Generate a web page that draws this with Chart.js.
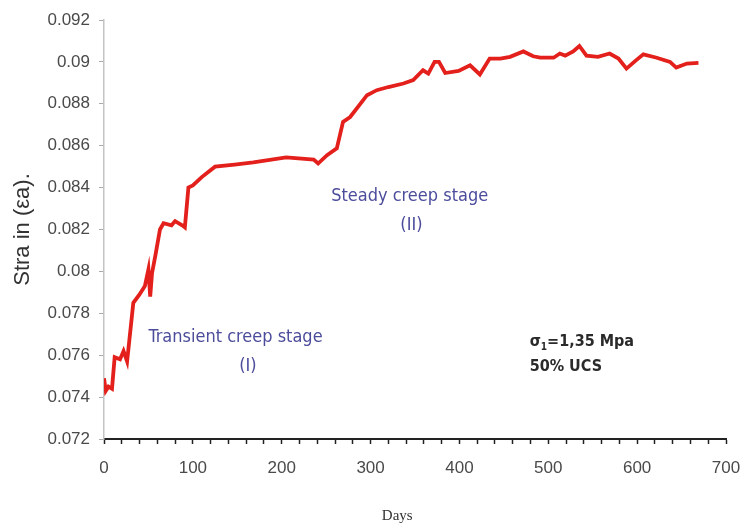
<!DOCTYPE html>
<html>
<head>
<meta charset="utf-8">
<script src="https://cdn.jsdelivr.net/npm/chart.js@4.4.1/dist/chart.umd.min.js"></script>
<style>
  html, body { margin: 0; padding: 0; background: #fff; }
  #wrap { width: 745px; height: 529px; }
</style>
</head>
<body>
<div id="wrap"><canvas id="chartCreep" width="745" height="529"></canvas></div>
<script>
// Data
const days = [0, 2, 5, 9, 12, 18, 22, 26, 33, 40, 46, 50, 52, 54, 58, 63, 67, 76, 80, 88,
    91, 95, 100, 110, 125, 147, 168, 205, 236, 241, 251, 262, 269, 277, 296, 307, 320, 337,
    348, 359, 365, 372, 377, 384, 399, 412, 423, 434, 446, 457, 472, 483, 491, 506, 513, 519,
    528, 535, 543, 556, 569, 579, 588, 598, 607, 622, 637, 644, 656, 669];
const strain = [0.0749, 0.0743, 0.0745, 0.0744, 0.0759, 0.0758, 0.0762, 0.0757, 0.0785, 0.0789,
    0.0793, 0.0801, 0.0788, 0.0799, 0.0808, 0.0820, 0.0823, 0.0822, 0.0824, 0.0822,
    0.0821, 0.0840, 0.0841, 0.0845, 0.0850, 0.0851, 0.0852, 0.08544, 0.08534, 0.08515,
    0.08555, 0.08587, 0.08714, 0.08737, 0.08841, 0.08865, 0.0888, 0.08897, 0.08913, 0.0896,
    0.08944, 0.0900, 0.0900, 0.08947, 0.08957, 0.08984, 0.0894, 0.09016, 0.09016, 0.09024,
    0.0905, 0.09027, 0.0902, 0.0902, 0.0904, 0.0903, 0.0905, 0.09076, 0.0903, 0.09024,
    0.0904, 0.09016, 0.08968, 0.09005, 0.09036, 0.0902, 0.0900, 0.08973, 0.08992, 0.08995];

const xTicks = [0, 100, 200, 300, 400, 500, 600, 700];
const yTicks = [0.072, 0.074, 0.076, 0.078, 0.08, 0.082, 0.084, 0.086, 0.088, 0.09, 0.092];

// annotation texts: [text, day, strain]
const stageLabels = [
    ['Transient creep stage', 148, 0.07687],
    ['(I)', 162, 0.07548],
    ['Steady creep stage', 344, 0.08359],
    ['(II)', 346, 0.08221]
];
const loadLabels = [
    ['1,35 Mpa', 479, 0.07663],
    ['50% UCS', 479, 0.07544]
];

const points = days.map((d, i) => ({ x: d, y: strain[i] }));

const narrow = '"Liberation Sans Narrow", "DejaVu Sans Condensed", sans-serif';

const textPlugin = {
    id: 'creepText',
    afterDraw(chart) {
        const ctx = chart.ctx;
        const xs = chart.scales.x, ys = chart.scales.y;
        ctx.save();
        ctx.textBaseline = 'middle';

        ctx.fillStyle = '#4c4c9c';
        ctx.textAlign = 'center';
        ctx.font = '18px ' + narrow;
        stageLabels.forEach(([t, d, s]) => {
            ctx.fillText(t, xs.getPixelForValue(d), ys.getPixelForValue(s));
        });

        ctx.fillStyle = '#2a2a2a';
        ctx.textAlign = 'left';
        ctx.font = 'bold 16px ' + narrow;
        // sigma with subscript 1
        const [t0, d0, s0] = loadLabels[0];
        let x = xs.getPixelForValue(d0);
        const y = ys.getPixelForValue(s0);
        ctx.fillText('σ', x, y);
        x += ctx.measureText('σ').width;
        ctx.font = 'bold 10px ' + narrow;
        ctx.fillText('1', x, y + 5);
        x += ctx.measureText('1').width;
        ctx.font = 'bold 16px ' + narrow;
        ctx.fillText('=' + t0, x, y);
        const [t1, d1, s1] = loadLabels[1];
        ctx.fillText(t1, xs.getPixelForValue(d1), ys.getPixelForValue(s1));

        // x axis title
        ctx.fillStyle = '#333';
        ctx.textAlign = 'center';
        ctx.font = '15px "Liberation Serif", serif';
        ctx.fillText('Days', xs.getPixelForValue(330), 516);
        ctx.restore();
    }
};

new Chart(document.getElementById('chartCreep'), {
    type: 'line',
    data: {
        datasets: [{
            label: 'Strain',
            data: points,
            borderColor: '#e3201b',
            borderWidth: 3.8,
            pointRadius: 0,
            tension: 0,
            fill: false
        }]
    },
    options: {
        responsive: false,
        animation: false,
        layout: { padding: { top: 20, right: 19, left: 0, bottom: 0 } },
        plugins: { legend: { display: false }, tooltip: { enabled: false } },
        scales: {
            x: {
                type: 'linear',
                min: 0,
                max: 700,
                afterFit: s => { s.height = 90; s.paddingRight = 0; s.paddingLeft = 0; },
                afterBuildTicks: s => {
                    const t = [];
                    for (let v = xTicks[0]; v <= xTicks[xTicks.length - 1]; v += 20) t.push({ value: v });
                    s.ticks = t;
                },
                grid: { drawOnChartArea: false, tickLength: 5, tickColor: '#222', tickWidth: 1.5 },
                border: { color: '#222', width: 2 },
                ticks: {
                    autoSkip: false,
                    maxRotation: 0,
                    padding: 14,
                    color: '#4a4a4a',
                    font: { family: 'Liberation Sans', size: 17 },
                    callback: v => xTicks.includes(v) ? String(v) : ''
                }
            },
            y: {
                min: 0.072,
                max: 0.092,
                afterFit: s => { s.width = 104; },
                afterBuildTicks: s => { s.ticks = yTicks.map(v => ({ value: v })); },
                grid: { drawOnChartArea: false, tickLength: 5, tickColor: '#aaa' },
                border: { color: '#c4c4c4', width: 1.5, dash: [2, 2] },
                ticks: {
                    padding: 9,
                    color: '#4a4a4a',
                    font: { family: 'Liberation Sans', size: 17 },
                    callback: v => String(parseFloat(v.toFixed(3)))
                },
                title: {
                    display: true,
                    text: 'Stra in (εa).',
                    color: '#333',
                    font: { family: 'Liberation Sans', size: 22 },
                    padding: { top: 10, bottom: 0 }
                }
            }
        }
    },
    plugins: [textPlugin]
});
</script>
</body>
</html>
